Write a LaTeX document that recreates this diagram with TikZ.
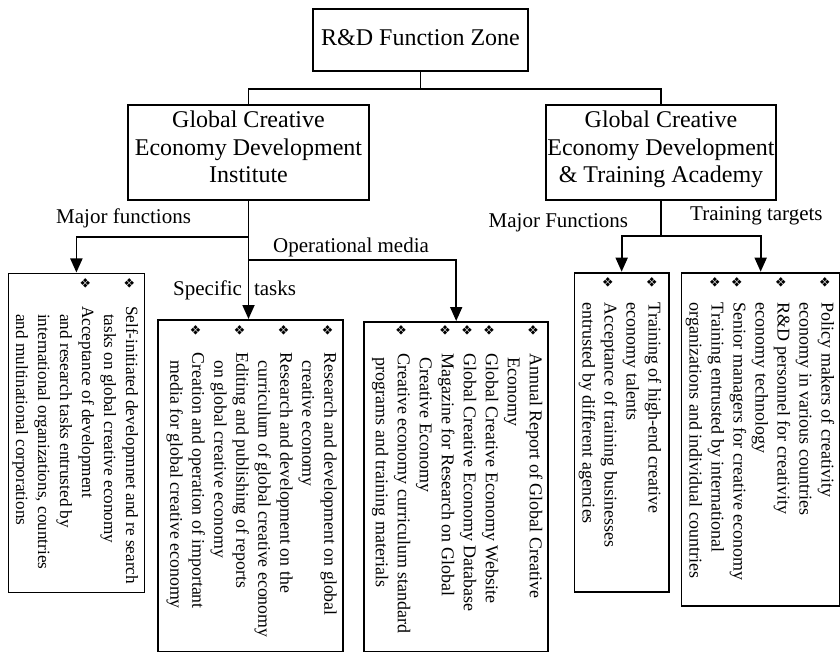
\documentclass[tikz,border=0pt]{standalone}
\usepackage{fontspec}
\setmainfont{Liberation Serif}
\newfontfamily\symfont{DejaVu Sans}
\usetikzlibrary{arrows.meta,calc}

% bullet glyph used in the rotated lists
\newcommand\bulletglyph{\raisebox{-1.5pt}{\symfont\fontsize{13}{13}\selectfont\char"2756}}
% first line of a list item and its continuation lines
\newcommand\itemline[1]{\makebox[\bulw][l]{\bulletglyph}#1\strut}
\newcommand\contline[1]{\hspace*{\contw}#1\strut}
% deeper strut for the last line of the upper boxes
\newcommand\lowstrut{\rule[-13.5pt]{0pt}{13.5pt}}

\begin{document}
\begin{tikzpicture}[x=1pt,y=-1pt,
  box/.style={draw, line width=1.8pt, inner sep=0pt, align=center},
  head/.style={box, font=\fontsize{24}{27.5}\selectfont},
  link/.style={line width=1.8pt},
  arr/.style={link, -{Triangle[length=14pt,width=12pt]}},
  lbl/.style={font=\fontsize{21}{21}\selectfont, anchor=base west, inner sep=0pt},
  vtext/.style={rotate=-90, anchor=north west, inner sep=0pt, align=left,
                font=\fontsize{18}{22}\selectfont}]

\path[use as bounding box, fill=white] (0,0) rectangle (840,652);

% ---- top level
\node[head, minimum width=215pt, minimum height=62pt, text depth=5pt] (rd) at (420.5,40) {R\&D Function Zone};

% ---- second level
\node[head, minimum width=241pt, minimum height=95pt] (gi) at (248.5,152.5)
  {Global Creative\strut\\Economy Development\strut\\Institute\lowstrut};
\node[head, minimum width=229.5pt, minimum height=95pt] (ga) at (661,152.5)
  {Global Creative\strut\\Economy Development\strut\\\& Training Academy\lowstrut};

% ---- bottom boxes
\node[box, anchor=north west, minimum width=136pt, minimum height=319pt] (lb) at (7.5,272.5) {};
\node[box, anchor=north west, minimum width=184.4pt, minimum height=331.5pt] (mb) at (157.3,319) {};
\node[box, anchor=north west, minimum width=184pt, minimum height=329.5pt] (ob) at (363.3,321) {};
\node[box, anchor=north west, minimum width=94.5pt, minimum height=319pt] (fb) at (573.5,271.7) {};
\node[box, anchor=north west, minimum width=158.5pt, minimum height=333.3pt] (tb) at (680.5,271.7) {};

% ---- connectors
\draw[link] (rd.south) -- ++(0,17) coordinate (split) -| (gi.north);
\draw[link] (split) -| (ga.north);

\coordinate (jf) at ($(gi.south)+(0,36)$);
\coordinate (jo) at ($(gi.south)+(0,59)$);
\draw[arr] (gi.south) -- (gi.south |- mb.north);
\draw[arr] (jf) -| (lb.north);
\draw[arr] (jo) -| (ob.north);

\coordinate (jt) at ($(ga.south)+(0,35.5)$);
\draw[link] (ga.south) -- (jt);
\draw[arr] (jt) -| (fb.north);
\draw[arr] (jt) -| (tb.north);

% ---- branch labels
\node[lbl] (mf) at (56,223.5) {Major functions};
\node[lbl] (om) at (273,253) {Operational media};
\node[lbl] (st) at (173,295) {Specific\hspace{12pt}tasks};
\node[lbl] (mF) at (488.5,228) {Major Functions};
\node[lbl] (tt) at (690,220.5) {Training targets};

% ---- rotated list texts
\def\bulw{28.5pt}\def\contw{36.5pt}
\node[vtext, font=\fontsize{17.2}{22}\selectfont] (lbt) at ($(lb.north east)+(-3.6,5)$)
  {\itemline{Self-initiated developmnet and re search}\\
   \contline{tasks on global creative economy}\\
   \itemline{Acceptance of development}\\
   \contline{and research tasks entrusted by}\\
   \contline{international organizations, countries}\\
   \contline{and multinational corporations}};

\node[vtext, font=\fontsize{17.8}{22}\selectfont] (mbt) at ($(mb.north east)+(-3.6,5)$)
  {\itemline{Research and development on global}\\
   \contline{creative economy}\\
   \itemline{Research and development on the}\\
   \contline{curriculum of global creative economy}\\
   \itemline{Editing and publishing of reports}\\
   \contline{on global creative economy}\\
   \itemline{Creation and operation of important}\\
   \contline{media for global creative economy}};

\def\bulw{28.5pt}\def\contw{33pt}
\node[vtext] (obt) at ($(ob.north east)+(-3.6,3.5)$)
  {\itemline{Annual Report of Global Creative}\\
   \contline{Economy}\\
   \itemline{Global Creative Economy Website}\\
   \itemline{Global Creative Economy Database}\\
   \itemline{Magazine for Research on Global}\\
   \contline{Creative Economy}\\
   \itemline{Creative economy curriculum standard}\\
   \contline{programs and training materials}};

\def\bulw{26pt}\def\contw{26pt}
\node[vtext] (fbt) at ($(fb.north east)+(-5.6,5)$)
  {\itemline{Training of high-end creative}\\
   \contline{economy talents}\\
   \itemline{Acceptance of training businesses}\\
   \contline{entrusted by different agencies}};

\node[vtext] (tbt) at ($(tb.north east)+(-3.6,5)$)
  {\itemline{Policy makers of creativity}\\
   \contline{economy in various countries}\\
   \itemline{R\&D personnel for creativity}\\
   \contline{economy technology}\\
   \itemline{Senior managers for creative economy}\\
   \itemline{Training entrusted by international}\\
   \contline{organizations and individual countries}};

\end{tikzpicture}
\end{document}
